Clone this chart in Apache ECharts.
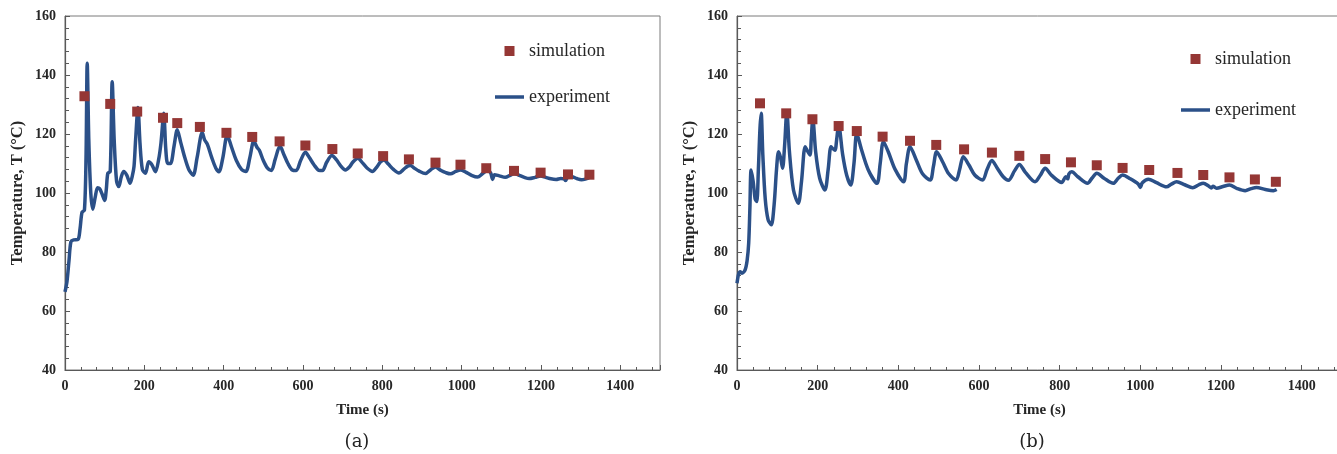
<!DOCTYPE html>
<html>
<head>
<meta charset="utf-8">
<script src="https://cdn.jsdelivr.net/npm/echarts@6/dist/echarts.min.js"></script>
<style>
html,body{margin:0;padding:0;background:#fff;}
#c{width:1337px;height:454px;}
</style>
</head>
<body>
<div id="c"></div>
<script>
// ---- data ----
const simTimeA = [49,114,182,247,283,340,407,472,541,606,674,738,802,867,934,997,1062,1132,1199,1268,1322];
const simTempA = [132.8,130.2,127.6,125.5,123.7,122.4,120.4,119.0,117.5,116.1,114.9,113.4,112.5,111.4,110.3,109.6,108.4,107.5,106.9,106.3,106.2];

const expTimeA = [0,5,10,15,22,33,38,43,49,53,56,60,65,70,76,82,87,94,100,104,108,114,119,124,130,135.5,142,148,156,164,170,174,178,184,189,195,203,211,219,228,236,242,249,254,259,266,275,283,292,302,312,323,333,346,352,359,370,380,388,398,409,420,432,445,456,466,476,484,490,500,510,520,530,542,552,562,573,583,594,606,616,628,640,649,660,673,684,695,707,717,726,738,750,762,775,786,795,804,815,828,842,855,865,871,880,893,909,922,934,948,960,972,985,997,1010,1025,1040,1053,1065,1073,1078,1083,1095,1110,1122,1132,1145,1158,1170,1185,1199,1212,1225,1238,1250,1258,1262,1267,1278,1290,1302,1312,1321];
const expTempA = [66.5,70,77,83.5,84.1,84.3,88,93.5,94.2,112,144,118,100,94.5,98.5,101.8,101.5,99.5,97.5,101,106.7,107.3,137.7,118,104,102.2,105.5,107.3,106,103.3,106,109,118,129,117,108,106.7,110.6,109.6,107.2,111.3,117,127,115,110,110,116,121.4,117,112,108,106,112,120.5,118,116.5,112,108.5,107.2,112,119.6,115.5,111,108,107.3,112,117.6,115.5,114.5,111,108.5,107.6,111.5,115.9,113,110,107.8,107.6,111,113.8,112,109.5,107.7,107.6,110.5,112.7,111.3,109.2,107.8,108.8,110.5,111.8,110.2,108.4,107.3,108.8,110.5,111.2,109.8,108,106.8,108.2,109.2,109.3,108.5,107.4,106.6,107.9,108.8,107.6,106.9,106.5,107.3,107.8,107.1,106,105.4,106.6,107.6,106.8,104.6,106.2,105.8,105.3,106,106.6,106,105.3,104.9,105.3,105.8,105.3,104.8,104.6,104.9,104.8,104.2,105.3,105.5,104.9,104.5,104.7,105.1];

const simTimeB = [57,122,187,252,297,361,429,494,563,632,700,764,828,892,956,1022,1092,1156,1221,1284,1336];
const simTempB = [130.4,127.0,125.0,122.7,121.0,119.1,117.7,116.3,114.8,113.7,112.6,111.5,110.4,109.4,108.5,107.8,106.8,106.1,105.3,104.6,103.8];

const expTimeB = [0,4,8,12,20,25,29,32,35,40,45,49,53,57,60,64,70,77,85,92,98,103,108,113,118,123.6,130,140,152,160,169,175,181,184,188,195,205,218,226,233,238,243,247,252,262,272,282,290,297,308,325,347,355,363,375,392,413,420,429,445,460,479,487,495,510,525,543,552,561,575,590,609,620,632,645,660,673,688,700,715,739,752,764,780,805,815,820,823,830,845,869,880,892,910,933,945,956,975,995,1000,1005,1020,1040,1065,1077,1090,1110,1130,1145,1156,1170,1176,1180,1189,1205,1221,1240,1260,1275,1288,1310,1330,1338];
const expTempB = [69.4,72.5,73.3,72.8,73.9,77,83,95,107.8,104,98,97.1,108,122,127,113,98,91,89.2,96,108,114,112,108.4,116,127.6,114,101,96.5,104,115.7,114.2,112.9,118,125.3,114,105,101,108,115.7,115,114.5,118,123.1,113,106,102.7,110,120.2,115,108,103.3,110,117.4,114,108,103.8,110,115.7,111,106.5,104.4,109,114,110.5,106.5,104.4,108,112.3,109.5,106,104.4,108,111,108.5,105.5,104.3,107.5,109.7,107,103.8,106,108.4,106,103.6,105.5,104.8,106.5,107.2,105.5,103.3,105,106.7,105,103.3,105,106.1,104.8,103,101.9,103.5,104.7,103.5,102.1,103,103.8,102.8,101.8,102.8,103.3,102.3,101.7,102.3,101.6,102.2,102.7,101.5,100.8,101.5,101.9,101.2,100.8,101.2];

const xTickLabels = ['0','200','400','600','800','1000','1200','1400'];
const yTickLabels = ['40','60','80','100','120','140','160'];

function pairs(t, v){ return t.map((x,i)=>[x, v[i]]); }

// ---- styles ----
const LINE_COLOR = '#2b5088';
const SIM_COLOR = '#953735';
const AXIS_COLOR = '#595959';
const LABEL_FONT = {fontFamily:'Liberation Serif', fontWeight:'bold', fontSize:14, color:'#262626'};
const XNAME_FONT = {fontFamily:'Liberation Serif', fontWeight:'bold', fontSize:15, color:'#262626'};
const YNAME_FONT = {fontFamily:'Liberation Serif', fontWeight:'bold', fontSize:16.5, color:'#262626'};
const LEG_FONT = {fontFamily:'Liberation Serif', fontSize:18, color:'#262626'};
// icon paths span the full 29x10 legend box (invisible move points fix the bounds)
const SQUARE_ICON = 'path://M0,0M29,10M9.5,0H19.5V10H9.5Z';
const LINE_ICON = 'path://M0,0M29,10M0,3.25H29V6.75H0Z';

function xAxis(gi){
  return {
    gridIndex: gi, type:'value', min:0, max:1500, interval:200,
    name:'Time (s)', nameLocation:'middle', nameGap:33, nameTextStyle: XNAME_FONT,
    axisLine:{show:true, lineStyle:{color:AXIS_COLOR, width:1.2}},
    axisTick:{show:true, inside:true, length:5, lineStyle:{color:AXIS_COLOR}},
    minorTick:{show:true, splitNumber:5, length:3, lineStyle:{color:AXIS_COLOR}},
    splitLine:{show:false},
    axisLabel:Object.assign({margin:9, formatter:function(v){ const s=String(v); return xTickLabels.indexOf(s)>=0 ? s : ''; }}, LABEL_FONT)
  };
}
function yAxis(gi){
  return {
    gridIndex: gi, type:'value', min:40, max:160, interval:20,
    name:'Temperature, T (°C)', nameLocation:'middle', nameGap:39, nameTextStyle: YNAME_FONT,
    axisLine:{show:true, lineStyle:{color:AXIS_COLOR, width:1.2}},
    axisTick:{show:true, inside:true, length:5, lineStyle:{color:AXIS_COLOR}},
    minorTick:{show:true, splitNumber:5, length:4, lineStyle:{color:AXIS_COLOR}},
    splitLine:{show:false},
    axisLabel:Object.assign({margin:9, formatter:function(v){ const s=String(v); return yTickLabels.indexOf(s)>=0 ? s : ''; }}, LABEL_FONT)
  };
}
function legend(name, icon, left, top){
  return {
    data:[{name:name, icon:icon}], left:left, top:top, orient:'vertical',
    itemWidth:29, itemHeight:10, itemGap:0, padding:0, symbolKeepAspect:false,
    itemStyle:{borderWidth:0},
    textStyle: LEG_FONT, selectedMode:false
  };
}

const chart = echarts.init(document.getElementById('c'), null, {renderer:'canvas'});
chart.setOption({
  animation:false,
  backgroundColor:'#fff',
  title:[
    {text:'(a)', left:352, top:428, textAlign:'center', textStyle:{fontFamily:'DejaVu Serif', fontWeight:'normal', fontSize:18, color:'#222'}},
    {text:'(b)', left:1027, top:428, textAlign:'center', textStyle:{fontFamily:'DejaVu Serif', fontWeight:'normal', fontSize:18, color:'#222'}}
  ],
  grid:[
    {left:65, top:16, width:595, height:354, show:true, borderColor:'#7a7a7a', borderWidth:1, backgroundColor:'transparent', outerBoundsMode:'none'},
    {left:737, top:16, width:605, height:354, show:true, borderColor:'#7a7a7a', borderWidth:1, backgroundColor:'transparent', outerBoundsMode:'none'}
  ],
  xAxis:[xAxis(0), xAxis(1)],
  yAxis:[yAxis(0), yAxis(1)],
  legend:[
    legend('simulation', SQUARE_ICON, 495, 42),
    legend('experiment', LINE_ICON, 495, 88),
    legend('simulation', SQUARE_ICON, 1181, 50),
    legend('experiment', LINE_ICON, 1181, 101)
  ],
  series:[
    {name:'experiment', type:'line', xAxisIndex:0, yAxisIndex:0, data:pairs(expTimeA, expTempA),
      showSymbol:false, symbol:'none', smooth:0.3, lineStyle:{color:LINE_COLOR, width:3.5}, itemStyle:{color:LINE_COLOR}, z:2},
    {name:'simulation', type:'scatter', xAxisIndex:0, yAxisIndex:0, data:pairs(simTimeA, simTempA),
      symbol:'rect', symbolSize:10, itemStyle:{color:SIM_COLOR, opacity:1}, z:3},
    {name:'experiment', type:'line', xAxisIndex:1, yAxisIndex:1, data:pairs(expTimeB, expTempB),
      showSymbol:false, symbol:'none', smooth:0.3, lineStyle:{color:LINE_COLOR, width:3.5}, itemStyle:{color:LINE_COLOR}, z:2},
    {name:'simulation', type:'scatter', xAxisIndex:1, yAxisIndex:1, data:pairs(simTimeB, simTempB),
      symbol:'rect', symbolSize:10, itemStyle:{color:SIM_COLOR, opacity:1}, z:3}
  ]
});
</script>
</body>
</html>
